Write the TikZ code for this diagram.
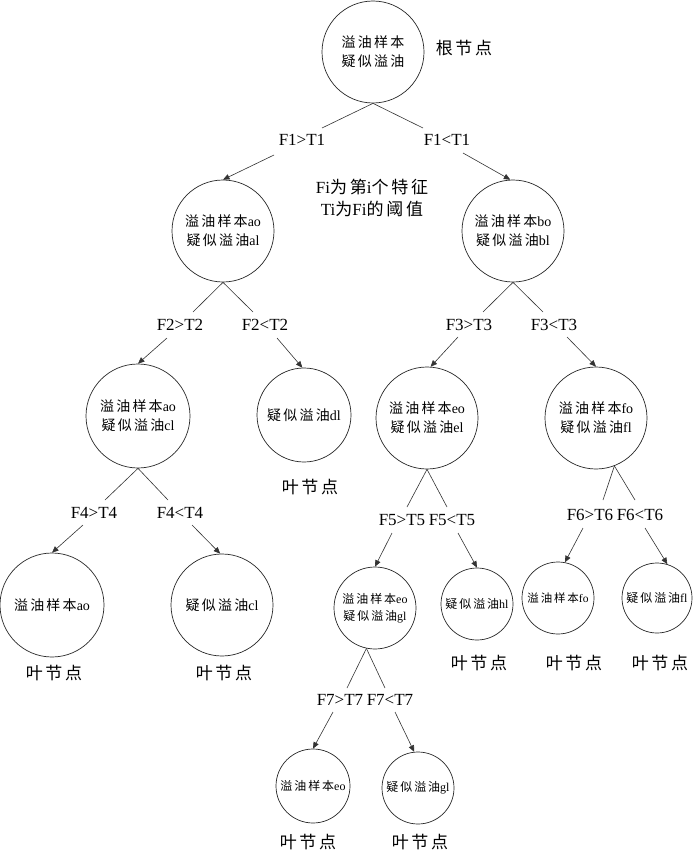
\documentclass[tikz,border=0pt]{standalone}
\usepackage{fontspec}
\setmainfont{Liberation Serif}
\newfontfamily\cjk[LetterSpace=16]{Noto Sans CJK SC}
\usetikzlibrary{arrows.meta,calc}
\newcommand\zh[1]{{\cjk #1}}
\begin{document}
\begin{tikzpicture}[x=1pt,y=-1pt,
 circ/.style={circle,draw=black!85,line width=0.7pt,inner sep=0pt,align=center,font=\fontsize{14}{19}\selectfont},
 smallc/.style={circ,font=\fontsize{12}{17}\selectfont},
 lab/.style={inner sep=1pt,font=\fontsize{17}{20}\selectfont},
 ann/.style={inner sep=1pt,font=\fontsize{17}{22}\selectfont,align=center},
 conn/.style={draw=black!80,line width=0.6pt},
 arr/.style={conn,-{Triangle[length=6.5pt,width=5.5pt]}}
]
\useasboundingbox (0,0) rectangle (700,851);
% tree nodes
\node[circ,minimum size=102pt] (root) at (373,52) {\zh{溢油样本}\\\zh{疑似溢油}};
\node[circ,minimum size=102pt] (A) at (223,231) {\zh{溢油样本}ao\\\zh{疑似溢油}al};
\node[circ,minimum size=102pt] (B) at (513,231) {\zh{溢油样本}bo\\\zh{疑似溢油}bl};
\node[circ,minimum size=104pt] (C) at (138,416) {\zh{溢油样本}ao\\\zh{疑似溢油}cl};
\node[circ,minimum size=94pt] (D) at (304,415) {\zh{疑似溢油}dl};
\node[circ,minimum size=102pt] (E) at (427,418) {\zh{溢油样本}eo\\\zh{疑似溢油}el};
\node[circ,minimum size=102pt] (F) at (596,418) {\zh{溢油样本}fo\\\zh{疑似溢油}fl};
\node[circ,minimum size=104pt] (G) at (52,605) {\zh{溢油样本}ao};
\node[circ,minimum size=102pt] (H) at (222,605) {\zh{疑似溢油}cl};
\node[smallc,minimum size=82pt] (I) at (375,608) {\zh{溢油样本}eo\\\zh{疑似溢油}gl};
\node[smallc,minimum size=72pt] (J) at (477,604) {\zh{疑似溢油}hl};
\node[smallc,minimum size=72pt,font=\fontsize{11.5}{16}\selectfont] (K) at (558,598) {\zh{溢油样本}fo};
\node[smallc,minimum size=70pt] (L) at (657,598) {\zh{疑似溢油}fl};
\node[smallc,minimum size=74pt] (M) at (313,786) {\zh{溢油样本}eo};
\node[smallc,minimum size=72pt] (N) at (418,788) {\zh{疑似溢油}gl};
% annotations
\node[ann] (rootlab) at (464,48) {\zh{根节点}};
\node[ann] (legend) at (372,198) {Fi\zh{为第}i\zh{个特征}\\Ti\zh{为}Fi\zh{的阈值}};
\node[ann] (leafD) at (310,487) {\zh{叶节点}};
\node[ann] (leafG) at (54,673) {\zh{叶节点}};
\node[ann] (leafH) at (224,673) {\zh{叶节点}};
\node[ann] (leafJ) at (479,663) {\zh{叶节点}};
\node[ann] (leafK) at (574,663) {\zh{叶节点}};
\node[ann] (leafL) at (660,663) {\zh{叶节点}};
\node[ann] (leafM) at (308,842) {\zh{叶节点}};
\node[ann] (leafN) at (420,842) {\zh{叶节点}};
% edge labels
\node[lab] (l1) at (302,140) {F1>T1};
\node[lab] (r1) at (447,140) {F1<T1};
\node[lab] (l2) at (180,325) {F2>T2};
\node[lab] (r2) at (265,325) {F2<T2};
\node[lab] (l3) at (469,325) {F3>T3};
\node[lab] (r3) at (554,325) {F3<T3};
\node[lab] (l4) at (94,513) {F4>T4};
\node[lab] (r4) at (180,513) {F4<T4};
\node[lab] (l5) at (402,520) {F5>T5};
\node[lab] (r5) at (452,520) {F5<T5};
\node[lab] (l6) at (590,515) {F6>T6};
\node[lab] (r6) at (640,515) {F6<T6};
\node[lab] (l7) at (340,700) {F7>T7};
\node[lab] (r7) at (390,700) {F7<T7};
% connectors
\draw[conn] (root.south) -- ($(l1)+(20,-12)$);
\draw[conn] (root.south) -- ($(r1)+(-24,-12)$);
\draw[arr] ($(l1)+(-28,15)$) -- (A.north);
\draw[arr] ($(r1)+(16,13)$) -- (B.93);
\draw[conn] (A.south) -- ($(l2)+(13,-13)$);
\draw[conn] (A.south) -- ($(r2)+(-12,-13)$);
\draw[arr] ($(l2)+(-13,13)$) -- (C.north);
\draw[arr] ($(r2)+(12,13)$) -- (D.92);
\draw[conn] (B.south) -- ($(l3)+(14,-13)$);
\draw[conn] (B.south) -- ($(r3)+(-11,-13)$);
\draw[arr] ($(l3)+(-11,12)$) -- (E.86);
\draw[arr] ($(r3)+(13,12)$) -- (F.north);
\draw[conn] (C.south) -- ($(l4)+(11,-13)$);
\draw[conn] (C.south) -- ($(r4)+(-12,-13)$);
\draw[arr] ($(l4)+(-11,12)$) -- (G.north);
\draw[arr] ($(r4)+(12,12)$) -- (H.92);
\draw[conn] (E.south) -- ($(l5)+(5,-13)$);
\draw[conn] (E.south) -- ($(r5)+(-5,-13)$);
\draw[arr] ($(l5)+(-10,13)$) -- (I.north);
\draw[arr] ($(r5)+(6,13)$) -- (J.north);
\draw[conn] (F.-69) -- ($(l6)+(13,-15)$);
\draw[conn] (F.-69) -- ($(r6)+(-5,-15)$);
\draw[arr] ($(l6)+(-7,13)$) -- (K.79);
\draw[arr] ($(r6)+(5,13)$) -- (L.73);
\draw[conn] (I.-102) -- ($(l7)+(7,-12)$);
\draw[conn] (I.-102) -- ($(r7)+(-5,-12)$);
\draw[arr] ($(l7)+(-7,12)$) -- (M.north);
\draw[arr] ($(r7)+(5,12)$) -- (N.96);
\end{tikzpicture}
\end{document}
